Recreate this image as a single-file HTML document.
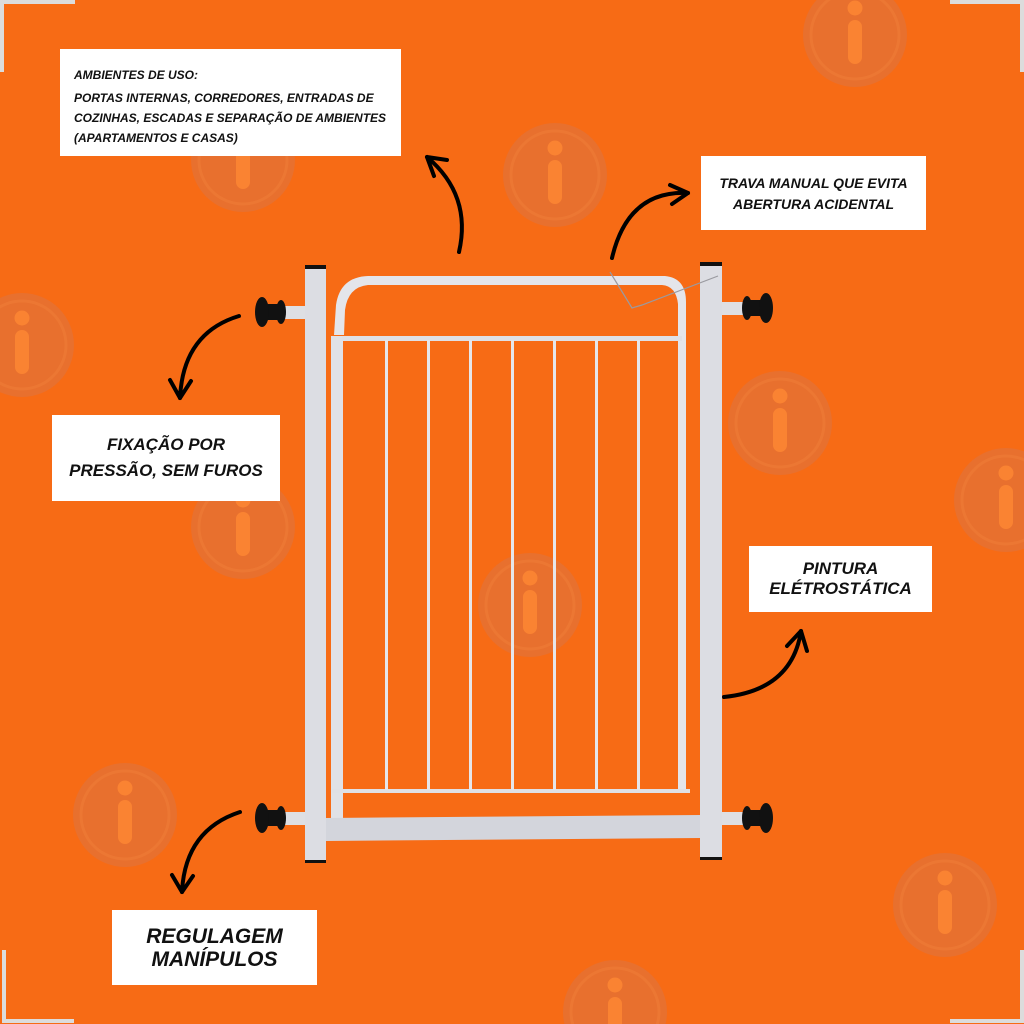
<!DOCTYPE html>
<html><head><meta charset="utf-8"><style>
html,body{margin:0;padding:0;background:#f76b15;}
.box{position:absolute;background:#fff;font-family:"Liberation Sans","DejaVu Sans",sans-serif;font-style:italic;font-weight:bold;color:#111;}
</style></head><body>
<div style="position:relative;width:1024px;height:1024px;overflow:hidden;background:#f76b15;">
<svg width="1024" height="1024" style="position:absolute;left:0;top:0">
<defs>
<g id="ic"><circle r="52" fill="#e8702e"/><circle r="44" fill="none" stroke="#ec7733" stroke-width="3"/><circle cy="-27" r="7.5" fill="#fa8332"/><rect x="-7" y="-15" width="14" height="44" rx="7" fill="#fa8332"/></g>
<g id="knob" fill="#111"><ellipse cx="5" cy="0" rx="5" ry="12"/><rect x="5" y="-8" width="17" height="16"/><ellipse cx="24" cy="0" rx="7" ry="15"/></g>
</defs>
<use href="#ic" x="855" y="35"/><use href="#ic" x="555" y="175"/><use href="#ic" x="243" y="160"/>
<use href="#ic" x="22" y="345"/><use href="#ic" x="780" y="423"/><use href="#ic" x="1006" y="500"/>
<use href="#ic" x="243" y="527"/><use href="#ic" x="530" y="605"/><use href="#ic" x="125" y="815"/>
<use href="#ic" x="945" y="905"/><use href="#ic" x="615" y="1012"/>
<g fill="#dcdcdc">
<rect x="0" y="0" width="75" height="4"/><rect x="0" y="0" width="4" height="72"/>
<rect x="950" y="0" width="74" height="4"/><rect x="1020" y="0" width="4" height="72"/>
<rect x="2" y="1019" width="72" height="4"/><rect x="2" y="950" width="4" height="73"/>
<rect x="950" y="1019" width="74" height="4"/><rect x="1020" y="950" width="4" height="73"/>
</g>
<rect x="284" y="306" width="22" height="13" fill="#dedfe3"/>
<rect x="284" y="812" width="22" height="13" fill="#dedfe3"/>
<rect x="722" y="302" width="22" height="13" fill="#dedfe3"/>
<rect x="722" y="812" width="22" height="13" fill="#dedfe3"/>
<use href="#knob" transform="translate(286,312) scale(-1,1)"/>
<use href="#knob" transform="translate(286,818) scale(-1,1)"/>
<use href="#knob" transform="translate(742,308)"/>
<use href="#knob" transform="translate(742,818)"/>
<g fill="#dfe0e5">
<path d="M334,335 L336,305 Q340,277 368,276 L665,276 Q686,278 686,302 L686,790 L678,790 L678,304 Q676,286 662,285 L368,285 Q348,287 345,310 L344,335Z" fill="#e4e5ea"/>
<rect x="331" y="336" width="12" height="482" fill="#e0e1e6"/>
<rect x="342" y="336" width="340" height="5"/>
<rect x="332" y="789" width="358" height="4"/>
<g fill="#e6e6ea"><rect x="385" y="340" width="3" height="450"/><rect x="427" y="340" width="3" height="450"/><rect x="469" y="340" width="3" height="450"/><rect x="511" y="340" width="3" height="450"/><rect x="553" y="340" width="3" height="450"/><rect x="595" y="340" width="3" height="450"/><rect x="637" y="340" width="3" height="450"/></g>
<path d="M326,818 L701,815 L701,838 L326,841Z" fill="#d3d5dc"/>
<rect x="305" y="266" width="21" height="596" fill="#dcdde3"/>
<rect x="700" y="263" width="22" height="596" fill="#dcdde3"/>
</g>
<rect x="305" y="265" width="21" height="4" fill="#111"/><rect x="305" y="860" width="21" height="3" fill="#111"/>
<rect x="700" y="262" width="22" height="4" fill="#111"/><rect x="700" y="857" width="22" height="3" fill="#111"/>
<path d="M610,272 L632,308 L642,305 L718,276" fill="none" stroke="#9a9aa0" stroke-width="1.2"/>
<g fill="none" stroke="#000" stroke-width="4" stroke-linecap="round">
<path d="M459,252 Q472,195 427,157"/><path d="M427,157 L447,160 M427,157 L434,176"/>
<path d="M612,258 Q628,190 688,193"/><path d="M688,193 L670,185 M688,193 L672,204"/>
<path d="M239,316 Q183,333 180,398"/><path d="M180,398 L170,380 M180,398 L191,381"/>
<path d="M240,812 Q185,830 182,892"/><path d="M182,892 L172,875 M182,892 L193,876"/>
<path d="M724,697 Q792,690 801,631"/><path d="M801,631 L787,646 M801,631 L807,651"/>
</g>
</svg>
<div class="box" style="left:60px;top:49px;width:341px;height:107px;font-size:12px;line-height:20px;">
<div style="position:absolute;left:14px;top:16px;">AMBIENTES DE USO:</div>
<div style="position:absolute;left:14px;top:39px;white-space:nowrap;">PORTAS INTERNAS, CORREDORES, ENTRADAS DE<br>COZINHAS, ESCADAS E SEPARAÇÃO DE AMBIENTES<br>(APARTAMENTOS E CASAS)</div>
</div>
<div class="box" style="left:701px;top:156px;width:225px;height:74px;font-size:14px;line-height:21px;text-align:center;"><div style="padding-top:17px;">TRAVA MANUAL QUE EVITA<br>ABERTURA ACIDENTAL</div></div>
<div class="box" style="left:52px;top:415px;width:228px;height:86px;font-size:17px;line-height:26px;text-align:center;"><div style="padding-top:17px;">FIXAÇÃO POR<br>PRESSÃO, SEM FUROS</div></div>
<div class="box" style="left:749px;top:546px;width:183px;height:66px;font-size:17px;line-height:20px;text-align:center;"><div style="padding-top:13px;">PINTURA<br>ELÉTROSTÁTICA</div></div>
<div class="box" style="left:112px;top:910px;width:205px;height:75px;font-size:21px;line-height:23px;text-align:center;"><div style="padding-top:15px;">REGULAGEM<br>MANÍPULOS</div></div>
</div>
</body></html>
